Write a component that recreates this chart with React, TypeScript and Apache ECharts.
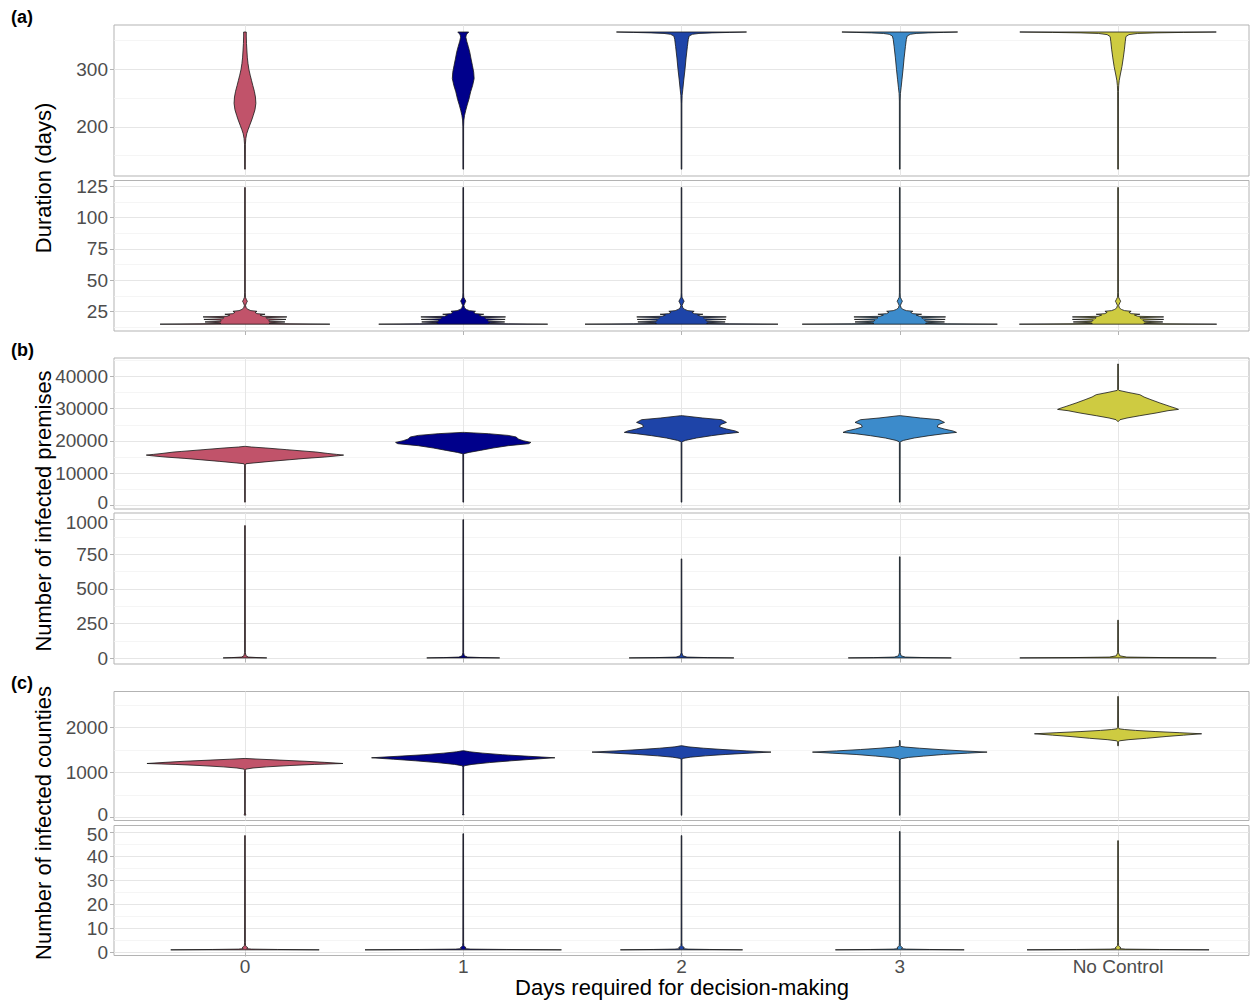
import { useEffect, useRef } from 'react';
import * as echarts from 'echarts';

const categories = ['0', '1', '2', '3', 'No Control'];
const violinFills = ['#C1536A', '#00008B', '#1E44A8', '#3C8BCB', '#CECB41'];

// Each violin is a density outline: [value, half-width in category units], bottom to top.
type Profile = number[][];

// (a) Duration (days), long outbreaks
const durationLong: Profile[] = [
  [[126.5, 0.0015], [170, 0.002], [180, 0.004], [188, 0.008], [195, 0.014], [203, 0.022], [212, 0.031], [220, 0.038], [230, 0.046], [241, 0.05], [252, 0.048], [262, 0.043], [272, 0.036], [281, 0.03], [290, 0.024], [300, 0.018], [310, 0.014], [320, 0.011], [332, 0.009], [345, 0.007], [358, 0.006], [365, 0.006]],
  [[126.5, 0.0015], [200, 0.0018], [212, 0.003], [220, 0.006], [228, 0.011], [238, 0.018], [248, 0.026], [261, 0.034], [272, 0.043], [284, 0.05], [295, 0.048], [307, 0.042], [318, 0.036], [330, 0.03], [340, 0.023], [349, 0.016], [356, 0.012], [360, 0.014], [363, 0.02], [365, 0.025]],
  [[126.5, 0.0015], [240, 0.0018], [255, 0.003], [265, 0.006], [280, 0.01], [300, 0.016], [320, 0.021], [340, 0.027], [352, 0.031], [358, 0.035], [361, 0.05], [362.5, 0.08], [363.5, 0.14], [364.3, 0.22], [365, 0.298]],
  [[126.5, 0.0015], [245, 0.0018], [258, 0.003], [268, 0.006], [282, 0.01], [300, 0.015], [320, 0.02], [340, 0.026], [352, 0.03], [358, 0.034], [361, 0.048], [362.5, 0.075], [363.5, 0.13], [364.3, 0.2], [365, 0.265]],
  [[126.5, 0.0015], [262, 0.0018], [272, 0.003], [281, 0.0055], [292, 0.011], [305, 0.018], [320, 0.024], [334, 0.029], [348, 0.033], [357, 0.036], [360.5, 0.05], [362.5, 0.09], [363.5, 0.17], [364.3, 0.3], [365, 0.45]],
];

// (a) Duration (days), short outbreaks
const durationShort: Profile[] = [
  [[15, 0.389], [15.25, 0.206], [15.6, 0.11], [16.2, 0.119], [16.8, 0.183], [17.3, 0.11], [18.2, 0.11], [18.8, 0.188], [19.3, 0.101], [20.2, 0.096], [20.8, 0.192], [21.3, 0.082], [22.3, 0.069], [22.9, 0.092], [23.4, 0.055], [24.5, 0.046], [25.3, 0.055], [25.8, 0.027], [26.8, 0.014], [28, 0.0055], [30, 0.0027], [32, 0.0069], [33.2, 0.011], [34.5, 0.0069], [36.5, 0.0023], [40, 0.0016], [124, 0.0015]],
  [[15, 0.387], [15.25, 0.2], [15.6, 0.115], [16.2, 0.125], [16.8, 0.19], [17.3, 0.115], [18.2, 0.112], [18.8, 0.192], [19.3, 0.105], [20.2, 0.098], [20.8, 0.194], [21.3, 0.085], [22.3, 0.072], [22.9, 0.094], [23.4, 0.057], [24.5, 0.048], [25.3, 0.056], [25.8, 0.028], [26.8, 0.014], [28, 0.006], [30, 0.003], [32, 0.008], [33.4, 0.012], [34.6, 0.008], [36.5, 0.0025], [40, 0.0016], [124, 0.0015]],
  [[15, 0.442], [15.25, 0.22], [15.6, 0.115], [16.2, 0.125], [16.8, 0.2], [17.3, 0.115], [18.2, 0.112], [18.8, 0.203], [19.3, 0.105], [20.2, 0.1], [20.8, 0.205], [21.3, 0.088], [22.3, 0.074], [22.9, 0.098], [23.4, 0.058], [24.5, 0.048], [25.3, 0.058], [25.8, 0.029], [26.8, 0.015], [28, 0.006], [30, 0.003], [32, 0.008], [33.3, 0.012], [34.6, 0.008], [36.5, 0.0025], [40, 0.0016], [124, 0.0015]],
  [[15, 0.447], [15.25, 0.22], [15.6, 0.118], [16.2, 0.128], [16.8, 0.205], [17.3, 0.118], [18.2, 0.114], [18.8, 0.208], [19.3, 0.107], [20.2, 0.1], [20.8, 0.21], [21.3, 0.09], [22.3, 0.075], [22.9, 0.1], [23.4, 0.06], [24.5, 0.05], [25.3, 0.06], [25.8, 0.03], [26.8, 0.015], [28, 0.006], [30, 0.003], [32, 0.008], [33.3, 0.012], [34.6, 0.008], [36.5, 0.0025], [40, 0.0016], [124, 0.0015]],
  [[15, 0.452], [15.25, 0.22], [15.6, 0.118], [16.2, 0.128], [16.8, 0.205], [17.3, 0.118], [18.2, 0.114], [18.8, 0.209], [19.3, 0.107], [20.2, 0.1], [20.8, 0.209], [21.3, 0.09], [22.3, 0.075], [22.9, 0.1], [23.4, 0.06], [24.5, 0.05], [25.3, 0.06], [25.8, 0.03], [26.8, 0.015], [28, 0.006], [30, 0.003], [32, 0.008], [33.3, 0.012], [34.6, 0.008], [36.5, 0.0025], [40, 0.0016], [124, 0.0015]],
];

// (b) Number of infected premises, large outbreaks
const premisesHigh: Profile[] = [
  [[1012, 0.0015], [12500, 0.0018], [12930, 0.005], [13147, 0.037], [13643, 0.115], [14170, 0.206], [14574, 0.275], [15000, 0.366], [15411, 0.43], [15600, 0.452], [15814, 0.42], [16100, 0.38], [16558, 0.325], [16744, 0.289], [17271, 0.192], [17798, 0.096], [18100, 0.03], [18295, 0.004]],
  [[1012, 0.0015], [15700, 0.0018], [16031, 0.003], [16434, 0.027], [17054, 0.078], [17798, 0.137], [18512, 0.206], [19132, 0.3], [19535, 0.31], [20062, 0.275], [20589, 0.252], [21209, 0.243], [21705, 0.206], [22232, 0.115], [22636, 0.005]],
  [[1012, 0.0015], [19500, 0.0018], [19752, 0.003], [20155, 0.018], [20899, 0.069], [21612, 0.137], [22232, 0.206], [22636, 0.262], [23070, 0.247], [23690, 0.206], [24310, 0.175], [25023, 0.178], [25736, 0.206], [26574, 0.183], [27100, 0.097], [27814, 0.004]],
  [[1012, 0.0015], [19500, 0.0018], [19752, 0.003], [20155, 0.017], [20899, 0.066], [21612, 0.134], [22232, 0.203], [22636, 0.26], [23070, 0.244], [23690, 0.203], [24310, 0.172], [25023, 0.176], [25736, 0.205], [26574, 0.18], [27100, 0.095], [27814, 0.004]],
  [[26047, 0.0018], [26574, 0.009], [27100, 0.041], [27814, 0.1], [28651, 0.174], [29364, 0.229], [29767, 0.277], [30078, 0.266], [30698, 0.238], [31752, 0.192], [32775, 0.151], [33612, 0.119], [34326, 0.1], [35039, 0.046], [35659, 0.004], [36000, 0.0018], [43845, 0.0015]],
];

// (b) Number of infected premises, small outbreaks
const premisesLow: Profile[] = [
  [[3, 0.1], [5, 0.06], [9, 0.016], [18, 0.005], [40, 0.0018], [957, 0.0015]],
  [[3, 0.167], [5, 0.09], [9, 0.02], [18, 0.005], [40, 0.0018], [1000, 0.0015]],
  [[3, 0.24], [5, 0.12], [9, 0.025], [18, 0.006], [40, 0.0018], [717, 0.0015]],
  [[3, 0.236], [5, 0.12], [9, 0.025], [18, 0.006], [40, 0.0018], [732, 0.0015]],
  [[3, 0.45], [5, 0.22], [9, 0.04], [18, 0.008], [40, 0.0018], [275, 0.0015]],
];

// (c) Number of infected counties, large outbreaks
const countiesHigh: Profile[] = [
  [[53, 0.004], [70, 0.003], [100, 0.0015], [1050, 0.0018], [1075, 0.004], [1100, 0.037], [1125, 0.1], [1155, 0.206], [1180, 0.32], [1200, 0.449], [1225, 0.366], [1250, 0.275], [1275, 0.16], [1295, 0.069], [1311, 0.004]],
  [[60, 0.004], [80, 0.0015], [1120, 0.0018], [1149, 0.004], [1180, 0.04], [1220, 0.12], [1260, 0.22], [1295, 0.32], [1327, 0.42], [1360, 0.3], [1395, 0.18], [1430, 0.09], [1460, 0.03], [1482, 0.004]],
  [[50, 0.0015], [1280, 0.0018], [1311, 0.004], [1340, 0.04], [1370, 0.11], [1400, 0.2], [1430, 0.31], [1453, 0.41], [1480, 0.3], [1510, 0.19], [1540, 0.1], [1570, 0.03], [1593, 0.004]],
  [[50, 0.0015], [1275, 0.0018], [1304, 0.004], [1335, 0.04], [1365, 0.11], [1400, 0.2], [1430, 0.31], [1453, 0.4], [1480, 0.29], [1510, 0.18], [1540, 0.09], [1565, 0.025], [1580, 0.004], [1600, 0.002], [1711, 0.0015]],
  [[1593, 0.0015], [1680, 0.002], [1704, 0.006], [1730, 0.05], [1760, 0.13], [1800, 0.22], [1830, 0.3], [1860, 0.383], [1885, 0.28], [1910, 0.17], [1935, 0.08], [1955, 0.03], [1971, 0.005], [2000, 0.002], [2689, 0.0015]],
];

// (c) Number of infected counties, small outbreaks
const countiesLow: Profile[] = [
  [[1.1, 0.34], [1.25, 0.15], [1.4, 0.03], [1.6, 0.008], [2, 0.013], [2.4, 0.007], [2.8, 0.003], [4, 0.0018], [48.5, 0.0015]],
  [[1.1, 0.45], [1.25, 0.2], [1.4, 0.035], [1.6, 0.008], [2, 0.013], [2.4, 0.007], [2.8, 0.003], [4, 0.0018], [49.3, 0.0015]],
  [[1.1, 0.28], [1.25, 0.13], [1.4, 0.03], [1.6, 0.008], [2, 0.013], [2.4, 0.007], [2.8, 0.003], [4, 0.0018], [48.5, 0.0015]],
  [[1.1, 0.295], [1.25, 0.135], [1.4, 0.03], [1.6, 0.008], [2, 0.013], [2.4, 0.007], [2.8, 0.003], [4, 0.0018], [50.2, 0.0015]],
  [[1.1, 0.417], [1.25, 0.19], [1.4, 0.035], [1.6, 0.008], [2, 0.013], [2.4, 0.007], [2.8, 0.003], [4, 0.0018], [46.4, 0.0015]],
];

// Tick marks (major) and minor grid positions per panel
const durationLongTicks = [200, 300];
const durationLongMinor = [150, 250, 350];
const durationShortTicks = [25, 50, 75, 100, 125];
const durationShortMinor = [12.5, 37.5, 62.5, 87.5, 112.5];
const premisesHighTicks = [0, 10000, 20000, 30000, 40000];
const premisesHighMinor = [5000, 15000, 25000, 35000, 45000];
const premisesLowTicks = [0, 250, 500, 750, 1000];
const premisesLowMinor = [125, 375, 625, 875];
const countiesHighTicks = [0, 1000, 2000];
const countiesHighMinor = [500, 1500, 2500];
const countiesLowTicks = [0, 10, 20, 30, 40, 50];
const countiesLowMinor = [5, 15, 25, 35, 45];

const categoryPositions = [1, 2, 3, 4, 5];

const FONT = '"Liberation Sans", Arial, sans-serif';
const BORDER = '#b3b3b3';
const MAJOR_GRID = '#e6e6e6';
const MINOR_GRID = '#f3f3f3';
const LABEL_GREY = '#4d4d4d';

// nudge: which tick label sits at a break and gets pushed away from its neighbour panel
const panels = [
  { top: 25, height: 151, min: 114.6, max: 377.2, major: durationLongTicks, minor: durationLongMinor, violins: durationLong, xTicks: false, xLabels: false, nudgeUp: null, nudgeDown: null },
  { top: 180.5, height: 150.5, min: 9.56, max: 129.6, major: durationShortTicks, minor: durationShortMinor, violins: durationShort, xTicks: true, xLabels: false, nudgeUp: null, nudgeDown: null },
  { top: 358, height: 151, min: -1116, max: 45705, major: premisesHighTicks, minor: premisesHighMinor, violins: premisesHigh, xTicks: false, xLabels: false, nudgeUp: 0, nudgeDown: null },
  { top: 513, height: 151, min: -41, max: 1048, major: premisesLowTicks, minor: premisesLowMinor, violins: premisesLow, xTicks: true, xLabels: false, nudgeUp: null, nudgeDown: 1000 },
  { top: 691.5, height: 129, min: -67, max: 2800, major: countiesHighTicks, minor: countiesHighMinor, violins: countiesHigh, xTicks: false, xLabels: false, nudgeUp: 0, nudgeDown: null },
  { top: 825.5, height: 130, min: -1.25, max: 52.7, major: countiesLowTicks, minor: countiesLowMinor, violins: countiesLow, xTicks: true, xLabels: true, nudgeUp: null, nudgeDown: 50 },
];

function buildOption(): echarts.EChartsOption {
  const grid: any[] = [];
  const xAxis: any[] = [];
  const yAxis: any[] = [];
  const series: any[] = [];
  const labelText = { fontSize: 19, color: LABEL_GREY, fontFamily: FONT };

  panels.forEach((p, gi) => {
    grid.push({
      left: 114, right: 1, top: p.top, height: p.height,
      show: true, borderColor: BORDER, borderWidth: 1, backgroundColor: '#fff',
      containLabel: false, outerBoundsMode: 'none',
    });
    xAxis.push({
      type: 'value', gridIndex: gi, min: 0.4, max: 5.6,
      axisLine: { show: false },
      axisTick: { show: p.xTicks, length: 4, lineStyle: { color: BORDER }, customValues: categoryPositions },
      axisLabel: {
        show: p.xLabels, customValues: categoryPositions, margin: 1,
        ...labelText,
        formatter: (v: number) => categories[Math.round(v) - 1] ?? '',
      },
      splitLine: { show: true, lineStyle: { color: MAJOR_GRID, width: 1 } },
    });
    // minor grid lines
    yAxis.push({
      type: 'value', gridIndex: gi, min: p.min, max: p.max, position: 'left',
      axisLine: { show: false },
      axisTick: { show: false, customValues: p.minor },
      axisLabel: { show: false, customValues: p.minor },
      splitLine: { show: true, lineStyle: { color: MINOR_GRID, width: 0.8 } },
    });
    // major ticks, labels and grid lines
    yAxis.push({
      type: 'value', gridIndex: gi, min: p.min, max: p.max, position: 'left',
      axisLine: { show: false },
      axisTick: { show: true, length: 4, lineStyle: { color: BORDER }, customValues: p.major },
      axisLabel: {
        show: true, customValues: p.major, margin: 6,
        ...labelText, lineHeight: 14,
        formatter: (v: number) => {
          if (p.nudgeUp !== null && v === p.nudgeUp) return `{up|${v}}`;
          if (p.nudgeDown !== null && v === p.nudgeDown) return `{down|${v}}`;
          return String(v);
        },
        rich: {
          up: { ...labelText, lineHeight: 14, padding: [0, 0, 5, 0] },
          down: { ...labelText, lineHeight: 14, padding: [5, 0, 0, 0] },
        },
      },
      splitLine: { show: true, lineStyle: { color: MAJOR_GRID, width: 1 } },
    });

    const violins = p.violins;
    series.push({
      type: 'custom',
      xAxisIndex: gi,
      yAxisIndex: gi * 2 + 1,
      clip: true,
      data: violins.map((prof, i) => [categoryPositions[i], prof[0][0], prof[prof.length - 1][0]]),
      encode: { x: 0, y: [1, 2] },
      renderItem: (params: any, api: any) => {
        const i = params.dataIndex;
        const prof = violins[i];
        const cx = api.value(0) as number;
        const pts: number[][] = [];
        for (const [v, w] of prof) pts.push(api.coord([cx + w, v]));
        for (let k = prof.length - 1; k >= 0; k--) pts.push(api.coord([cx - prof[k][1], prof[k][0]]));
        return {
          type: 'polygon',
          shape: { points: pts },
          style: { fill: violinFills[i], stroke: '#161616', lineWidth: 0.8, lineJoin: 'round' },
        };
      },
    });
  });

  const titleStyle = { font: `22px ${FONT}`, fill: '#000', align: 'center', verticalAlign: 'middle' };
  const tagStyle = { font: `bold 18px ${FONT}`, fill: '#000', align: 'left', verticalAlign: 'middle' };

  return {
    animation: false,
    backgroundColor: '#fff',
    grid, xAxis, yAxis, series,
    graphic: [
      { type: 'text', x: 11, y: 17, style: { ...tagStyle, text: '(a)' } },
      { type: 'text', x: 11, y: 350, style: { ...tagStyle, text: '(b)' } },
      { type: 'text', x: 11, y: 683, style: { ...tagStyle, text: '(c)' } },
      { type: 'text', x: 43, y: 178, rotation: Math.PI / 2, style: { ...titleStyle, text: 'Duration (days)' } },
      { type: 'text', x: 43, y: 511, rotation: Math.PI / 2, style: { ...titleStyle, text: 'Number of infected premises' } },
      { type: 'text', x: 43, y: 823, rotation: Math.PI / 2, style: { ...titleStyle, text: 'Number of infected counties' } },
      { type: 'text', x: 682, y: 987, style: { ...titleStyle, text: 'Days required for decision-making' } },
    ],
  } as any;
}

export default function App() {
  const ref = useRef<HTMLDivElement>(null);
  useEffect(() => {
    if (!ref.current) return;
    const chart = echarts.init(ref.current, undefined, { renderer: 'svg' });
    chart.setOption(buildOption());
    return () => chart.dispose();
  }, []);
  return (
    <div
      ref={ref}
      style={{ position: 'absolute', left: 0, top: 0, width: 1250, height: 1002, background: '#fff' }}
    />
  );
}
